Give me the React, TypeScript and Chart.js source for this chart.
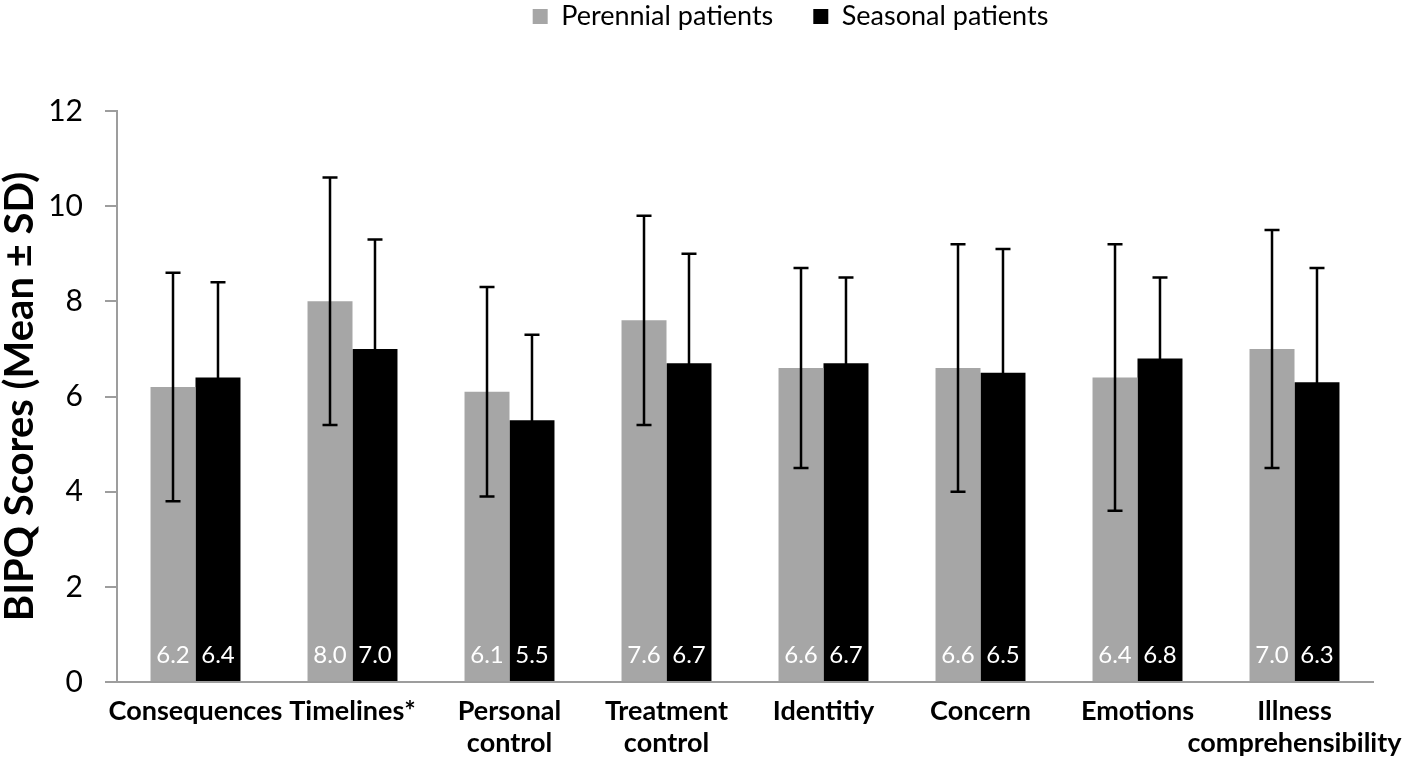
import React, { useEffect, useRef } from "react";
import { Chart, registerables } from "chart.js";

Chart.register(...registerables);

const categories: (string | string[])[] = [
  "Consequences",
  "Timelines*",
  ["Personal", "control"],
  ["Treatment", "control"],
  "Identitiy",
  "Concern",
  "Emotions",
  ["Illness", "comprehensibility"],
];
const seriesLabels = ["Perennial patients", "Seasonal patients"];
const perennialMean = [6.2, 8.0, 6.1, 7.6, 6.6, 6.6, 6.4, 7.0];
const perennialSD = [2.4, 2.6, 2.2, 2.2, 2.1, 2.6, 2.8, 2.5];
const seasonalMean = [6.4, 7.0, 5.5, 6.7, 6.7, 6.5, 6.8, 6.3];
const seasonalSD = [2.0, 2.3, 1.8, 2.3, 1.8, 2.6, 1.7, 2.4];
const yMin = 0;
const yMax = 12;
const yStep = 2;

const FONT = "Lato, 'Open Sans', sans-serif";
const GREY = "#a6a6a6";
const AXIS = "#9d9d9d";

const errorBarPlugin = {
  id: "errorBars",
  afterDatasetsDraw(chart: any) {
    const ctx = chart.ctx;
    const yScale = chart.scales.y;
    const sds = [perennialSD, seasonalSD];
    ctx.save();
    ctx.strokeStyle = "#000";
    ctx.lineWidth = 2.5;
    chart.data.datasets.forEach((ds: any, di: number) => {
      const meta = chart.getDatasetMeta(di);
      meta.data.forEach((bar: any, i: number) => {
        const v = ds.data[i];
        const sd = sds[di][i];
        const yTop = yScale.getPixelForValue(v + sd);
        const yBot = yScale.getPixelForValue(v - sd);
        const x = bar.x;
        const cap = 7.5;
        ctx.beginPath();
        ctx.moveTo(x, yTop);
        ctx.lineTo(x, yBot);
        ctx.moveTo(x - cap, yTop);
        ctx.lineTo(x + cap, yTop);
        ctx.moveTo(x - cap, yBot);
        ctx.lineTo(x + cap, yBot);
        ctx.stroke();
      });
    });
    // value labels
    ctx.fillStyle = "#fff";
    ctx.font = `24px ${FONT}`;
    ctx.textAlign = "center";
    ctx.textBaseline = "middle";
    const base = yScale.getPixelForValue(0);
    chart.data.datasets.forEach((ds: any, di: number) => {
      const meta = chart.getDatasetMeta(di);
      meta.data.forEach((bar: any, i: number) => {
        ctx.fillText(Number(ds.data[i]).toFixed(1), bar.x, base - 27);
      });
    });
    ctx.restore();
  },
};

const LEGEND_PAD = 40;

const legendTweak = {
  id: "legendTweak",
  beforeLayout(chart: any) {
    const lg = chart.legend;
    if (lg && !lg.__patched) {
      const orig = lg.fit.bind(lg);
      lg.fit = function () {
        orig();
        this.height += 34;
      };
      lg.__patched = true;
    }
  },
  afterLayout(chart: any) {
    const lg = chart.legend;
    if (lg) {
      lg.left += 104;
      lg.right += 104;
      lg.top -= LEGEND_PAD - 3;
      lg.bottom -= LEGEND_PAD - 3;
    }
  },
};

export default function App() {
  const ref = useRef<HTMLCanvasElement | null>(null);
  useEffect(() => {
    document.body.style.margin = "0";
    const canvas = ref.current;
    if (!canvas) return;
    const chart = new Chart(canvas, {
      type: "bar",
      data: {
        labels: categories as any,
        datasets: [
          {
            label: seriesLabels[0],
            data: perennialMean,
            backgroundColor: GREY,
            categoryPercentage: 0.573,
            barPercentage: 1,
          },
          {
            label: seriesLabels[1],
            data: seasonalMean,
            backgroundColor: "#000",
            categoryPercentage: 0.573,
            barPercentage: 1,
          },
        ],
      },
      options: {
        responsive: false,
        animation: false,
        layout: { padding: { top: 0, right: 45, left: 0, bottom: 0 } },
        plugins: {
          legend: {
            position: "top",
            labels: {
              boxWidth: 15,
              boxHeight: 15,
              padding: LEGEND_PAD,
              color: "#000",
              font: { family: FONT, size: 27 },
            },
          },
          tooltip: { enabled: false },
        },
        scales: {
          x: {
            grid: { display: false, drawTicks: false },
            border: { display: true, color: AXIS, width: 2 },
            ticks: {
              color: "#000",
              font: { family: FONT, size: 27, weight: "bold", lineHeight: 1.2 },
              maxRotation: 0,
              autoSkip: false,
              padding: 13,
            },
            afterFit: (s: any) => {
              s.height = 83;
            },
          },
          y: {
            min: yMin,
            max: yMax,
            grid: {
              drawOnChartArea: false,
              drawTicks: true,
              tickLength: 12,
              color: AXIS,
              lineWidth: 2,
            },
            border: { display: true, color: AXIS, width: 2 },
            ticks: {
              stepSize: yStep,
              color: "#000",
              padding: 22,
              font: { family: FONT, size: 30 },
            },
            title: {
              display: true,
              text: "BIPQ Scores (Mean ± SD)",
              color: "#000",
              font: { family: FONT, size: 40, weight: "bold", lineHeight: 1.0 },
              padding: { top: 0, bottom: 0 },
            },
            afterFit: (s: any) => {
              s.width = 117;
            },
          },
        },
      },
      plugins: [errorBarPlugin, legendTweak],
    });
    return () => chart.destroy();
  }, []);
  return (
    <div style={{ width: 1418, height: 765 }}>
      <canvas ref={ref} width={1418} height={765} />
    </div>
  );
}
